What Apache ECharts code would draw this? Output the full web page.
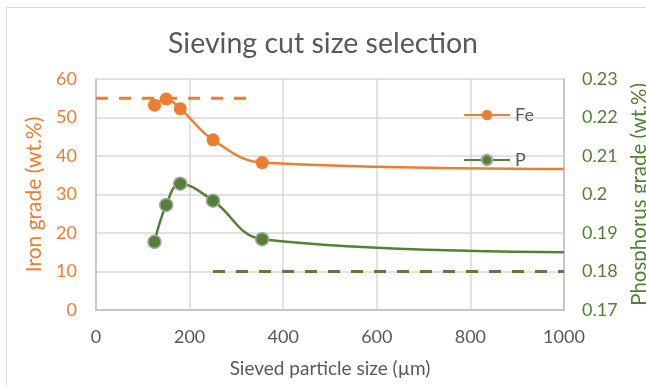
<!DOCTYPE html>
<html>
<head>
<meta charset="utf-8">
<script src="https://cdn.jsdelivr.net/npm/echarts@6/dist/echarts.min.js"></script>
<style>
  html, body { margin: 0; padding: 0; background: #fff; }
  #chart { width: 646px; height: 387px; }
</style>
</head>
<body>
<div id="chart"></div>
<script>
// Sieved particle size (µm) of each measured fraction
const sizes = [125, 150, 180, 250, 355, 1000];
// Iron grade (wt.%) per fraction
const ironGrade = [53.2, 54.8, 52.3, 44.2, 38.3, 36.6];
// Phosphorus grade (wt.%) per fraction
const phosGrade = [0.1877, 0.1973, 0.2028, 0.1984, 0.1884, 0.1850];
// Target levels drawn as dashed reference lines
const ironTarget = { from: 0, to: 335, value: 55 };
const phosTarget = { from: 250, to: 1000, value: 0.18 };
// Axis ticks
const xTicks = { min: 0, max: 1000, step: 200 };
const ironTicks = { min: 0, max: 60, step: 10 };
const phosTicks = { min: 0.17, max: 0.23, step: 0.01 };

const ORANGE = '#ED7D31';
const GREEN = '#548235';
const GRAY = '#595959';
const FONT = 'Lato';

const pts = (ys) => sizes.map((x, i) => {
  const item = { value: [x, ys[i]] };
  if (i === sizes.length - 1) item.symbol = 'none';
  return item;
});

const chart = echarts.init(document.getElementById('chart'), null, { renderer: 'canvas' });
chart.setOption({
  animation: false,
  textStyle: { fontFamily: FONT },
  graphic: [{
    type: 'rect', shape: { x: 6.5, y: 7.5, width: 700, height: 500 },
    style: { fill: 'none', stroke: '#d9d9d9', lineWidth: 1 }, silent: true
  }],
  title: {
    text: 'Sieving cut size selection', left: 'center', top: 24,
    textStyle: { fontFamily: FONT, fontSize: 28.5, fontWeight: 'normal', color: GRAY }
  },
  legend: {
    orient: 'vertical', left: 458, top: 101, itemWidth: 46, itemHeight: 13, itemGap: 27,
    data: ['Fe', 'P'],
    textStyle: { fontFamily: FONT, fontSize: 18, color: GRAY, padding: [0, 0, 0, 0] }
  },
  grid: { left: 96, right: 82, top: 79, bottom: 77, outerBoundsMode: 'none', containLabel: false },
  xAxis: {
    type: 'value', min: xTicks.min, max: xTicks.max, interval: xTicks.step,
    name: 'Sieved particle size (µm)', nameLocation: 'middle', nameGap: 49,
    nameTextStyle: { fontFamily: FONT, fontSize: 19, color: GRAY },
    axisLine: { lineStyle: { color: '#bfbfbf', width: 1.5 } },
    axisTick: { show: false },
    axisLabel: { fontFamily: FONT, fontSize: 18, color: GRAY, margin: 18,
      formatter: (v) => String(v) },
    splitLine: { lineStyle: { color: '#d9d9d9', width: 1.5 } }
  },
  yAxis: [{
    type: 'value', min: ironTicks.min, max: ironTicks.max, interval: ironTicks.step,
    name: 'Iron grade (wt.%)', nameLocation: 'middle', nameGap: 46,
    nameTextStyle: { fontFamily: FONT, fontSize: 21, color: ORANGE },
    axisLine: { show: true, lineStyle: { color: '#bfbfbf', width: 1.5 } },
    axisTick: { show: false },
    axisLabel: { fontFamily: FONT, fontSize: 18, color: ORANGE, margin: 19 },
    splitLine: { lineStyle: { color: '#d9d9d9', width: 1.5 } }
  }, {
    type: 'value', min: phosTicks.min, max: phosTicks.max, interval: phosTicks.step,
    name: 'Phosphorus grade (wt.%)', nameLocation: 'middle', nameGap: 60,
    nameTextStyle: { fontFamily: FONT, fontSize: 20.5, color: GREEN },
    axisLine: { show: true, lineStyle: { color: '#bfbfbf', width: 1.5 } },
    axisTick: { show: false },
    axisLabel: { fontFamily: FONT, fontSize: 18, color: GREEN, margin: 18,
      formatter: (v) => String(+v.toFixed(2)) },
    splitLine: { show: false }
  }],
  series: [{
    name: 'Fe', type: 'line', yAxisIndex: 0, smooth: 0.4,
    data: pts(ironGrade),
    symbol: 'circle', symbolSize: 13,
    lineStyle: { color: ORANGE, width: 2.5 },
    itemStyle: { color: ORANGE }
  }, {
    name: 'P', type: 'line', yAxisIndex: 1, smooth: 0.4,
    data: pts(phosGrade),
    symbol: 'circle', symbolSize: 13,
    lineStyle: { color: GREEN, width: 2.5 },
    itemStyle: { color: GREEN, borderColor: '#a5a5a5', borderWidth: 1.5 }
  }, {
    name: 'Fe target', type: 'line', yAxisIndex: 0, symbol: 'none',
    data: [[ironTarget.from, ironTarget.value], [ironTarget.to, ironTarget.value]],
    lineStyle: { color: ORANGE, width: 3, type: [12, 11] }
  }, {
    name: 'P target', type: 'line', yAxisIndex: 1, symbol: 'none',
    data: [[phosTarget.from, phosTarget.value], [phosTarget.to, phosTarget.value]],
    lineStyle: { color: GREEN, width: 3, type: [12, 11] }
  }]
});
</script>
</body>
</html>
